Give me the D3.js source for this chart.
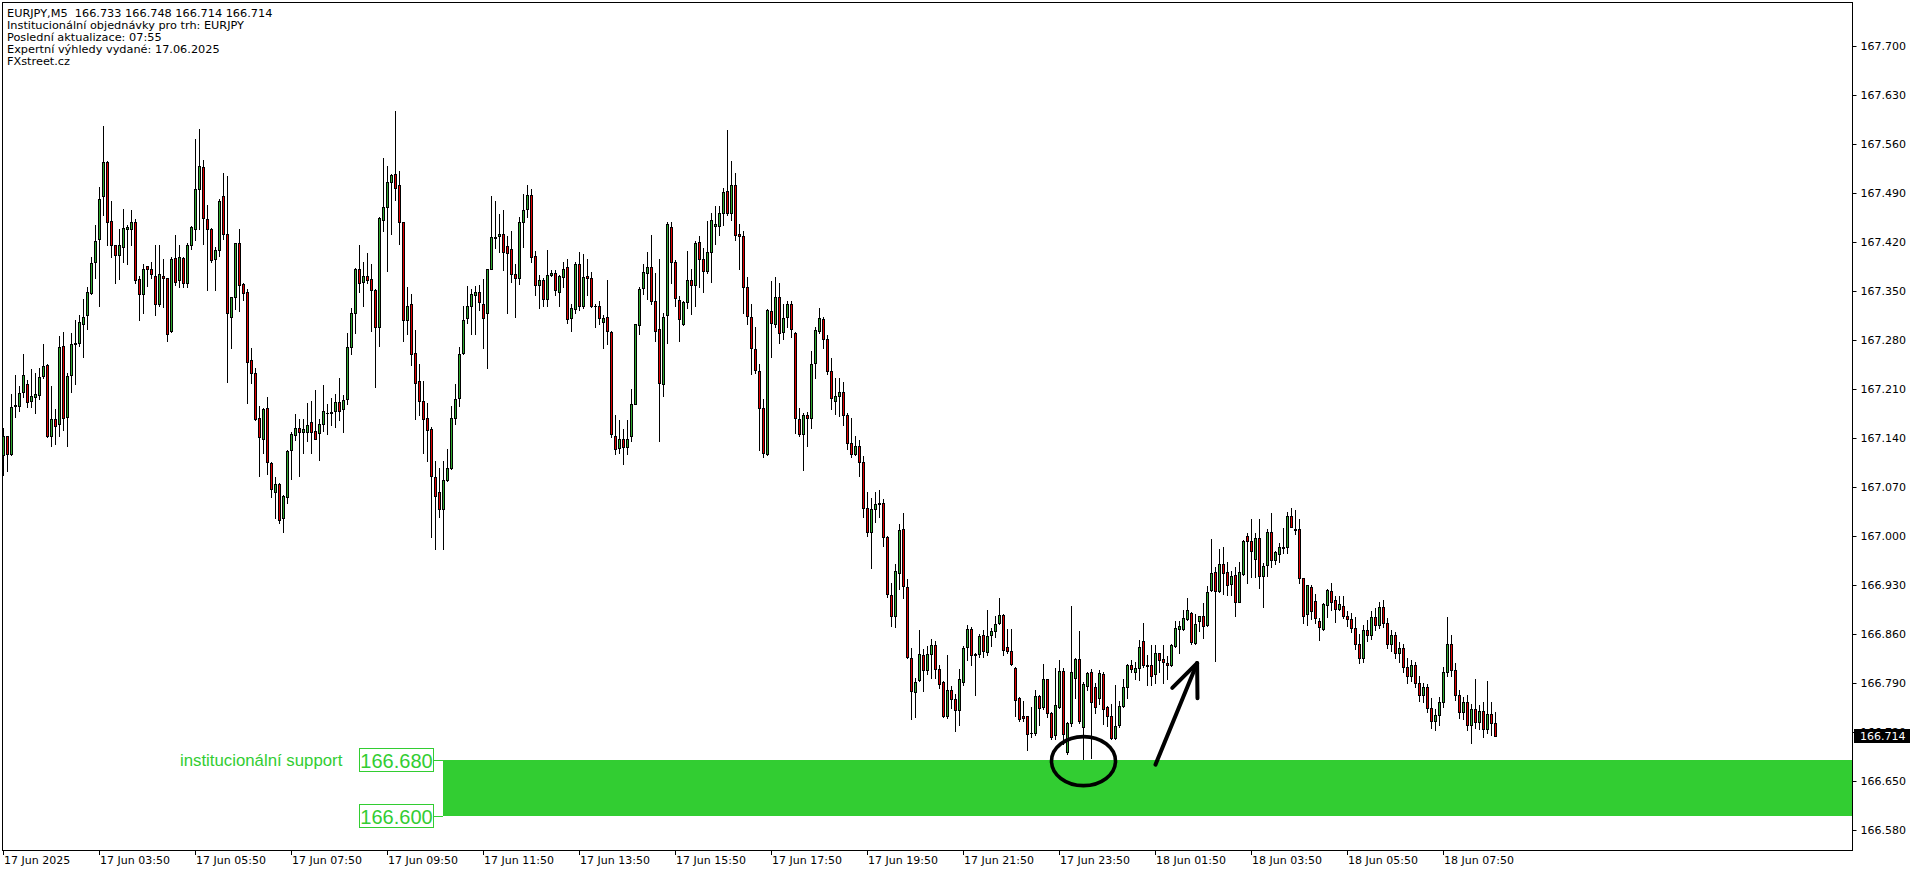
<!DOCTYPE html>
<html><head><meta charset="utf-8">
<script src="https://cdn.jsdelivr.net/npm/d3@7"></script>
<style>html,body{margin:0;padding:0;background:#fff;overflow:hidden;} svg{display:block;}</style>
</head><body>
<script>
// ---- DATA (EURJPY M5, bar 0 = 17 Jun 01:50) ----
const opens = [167.116,167.142,167.117,167.185,167.185,167.205,167.217,167.192,167.199,167.201,167.228,167.244,167.142,167.167,167.160,167.271,167.170,167.230,167.274,167.276,167.302,167.315,167.347,167.391,167.424,167.485,167.534,167.450,167.415,167.401,167.413,167.438,167.439,167.448,167.367,167.345,167.385,167.381,167.372,167.331,167.372,167.368,167.292,167.397,167.365,167.397,167.361,167.415,167.439,167.495,167.527,167.453,167.438,167.395,167.408,167.485,167.431,167.312,167.341,167.418,167.360,167.348,167.251,167.232,167.169,167.139,167.182,167.104,167.062,167.074,167.025,167.055,167.123,167.144,167.154,167.149,167.148,167.162,167.150,167.147,167.160,167.175,167.175,167.178,167.191,167.181,167.195,167.270,167.318,167.382,167.363,167.371,167.367,167.352,167.299,167.452,167.470,167.505,167.517,167.502,167.448,167.309,167.332,167.261,167.221,167.192,167.168,167.152,167.084,167.062,167.038,167.080,167.097,167.169,167.197,167.261,167.311,167.329,167.344,167.348,167.332,167.318,167.382,167.426,167.428,167.431,167.414,167.410,167.374,167.368,167.448,167.467,167.487,167.400,167.358,167.366,167.338,167.373,167.375,167.349,167.370,167.384,167.311,167.324,167.388,167.328,167.371,167.368,167.329,167.328,167.305,167.312,167.291,167.142,167.125,167.138,167.127,167.143,167.189,167.301,167.354,167.375,167.384,167.336,167.295,167.217,167.315,167.441,167.392,167.337,167.302,167.334,167.365,167.358,167.420,167.395,167.378,167.405,167.443,167.443,167.462,167.493,167.462,167.501,167.431,167.428,167.355,167.312,167.267,167.235,167.182,167.117,167.321,167.303,167.342,167.291,167.312,167.331,167.290,167.167,167.145,167.173,167.168,167.247,167.292,167.310,167.281,167.236,167.192,167.200,167.205,167.173,167.132,167.117,167.128,167.106,167.040,167.006,167.039,167.047,167.047,166.998,166.916,166.886,166.947,167.010,166.927,166.825,166.777,166.794,166.829,166.808,166.831,166.844,166.809,166.791,166.742,166.779,166.767,166.751,166.791,166.841,166.867,166.831,166.831,166.858,166.834,166.858,166.864,166.875,166.887,166.841,166.835,166.811,166.768,166.743,166.742,166.718,166.718,166.771,166.755,166.795,166.747,166.715,166.756,166.807,166.691,166.733,166.797,166.824,166.727,166.785,166.806,166.784,166.768,166.802,166.756,166.742,166.711,166.729,166.757,166.784,166.816,166.806,166.811,166.849,166.815,166.815,166.802,166.832,166.824,166.818,166.815,166.842,166.867,166.867,166.881,166.890,166.847,166.878,166.886,166.872,166.922,166.948,166.921,166.960,166.948,166.931,166.944,166.906,166.946,167.000,166.992,166.967,166.997,166.943,166.959,167.006,166.966,166.974,166.984,166.984,167.029,167.010,167.010,166.939,166.888,166.927,166.907,166.878,166.867,166.901,166.921,166.908,166.895,166.899,166.886,166.881,166.868,166.845,166.826,166.866,166.858,166.884,166.872,166.898,166.876,166.846,166.858,166.832,166.840,166.812,166.800,166.816,166.790,166.772,166.784,166.754,166.736,166.744,166.762,166.806,166.846,166.808,166.772,166.748,166.762,166.730,166.752,166.734,166.750,166.724,166.746,166.733];
const highs = [167.154,167.143,167.203,167.230,167.214,167.260,167.223,167.239,167.232,167.240,167.274,167.246,167.214,167.181,167.286,167.291,167.233,167.290,167.308,167.316,167.339,167.356,167.398,167.444,167.498,167.586,167.535,167.479,167.416,167.439,167.467,167.444,167.466,167.453,167.371,167.389,167.386,167.391,167.416,167.416,167.395,167.369,167.398,167.430,167.416,167.398,167.419,167.443,167.567,167.582,167.537,167.473,167.440,167.413,167.482,167.519,167.514,167.342,167.419,167.439,167.361,167.353,167.268,167.240,167.185,167.182,167.199,167.105,167.084,167.075,167.058,167.123,167.149,167.174,167.167,167.167,167.190,167.193,167.209,167.167,167.216,167.189,167.197,167.203,167.225,167.201,167.290,167.325,167.383,167.416,167.392,167.404,167.389,167.353,167.455,167.540,167.528,167.517,167.607,167.522,167.449,167.355,167.345,167.294,167.245,167.221,167.190,167.155,167.107,167.097,167.107,167.124,167.186,167.217,167.270,167.329,167.357,167.353,167.357,167.359,167.367,167.382,167.485,167.479,167.460,167.466,167.429,167.436,167.389,167.456,167.488,167.502,167.496,167.407,167.373,167.369,167.409,167.380,167.380,167.373,167.391,167.396,167.331,167.391,167.405,167.403,167.396,167.377,167.331,167.335,167.316,167.366,167.292,167.173,167.166,167.152,167.166,167.210,167.303,167.355,167.389,167.405,167.430,167.376,167.395,167.318,167.448,167.448,167.394,167.343,167.335,167.407,167.382,167.421,167.429,167.412,167.450,167.461,167.472,167.471,167.497,167.580,167.536,167.518,167.446,167.436,167.370,167.331,167.299,167.246,167.196,167.324,167.364,167.370,167.361,167.332,167.336,167.335,167.291,167.182,167.175,167.177,167.264,167.298,167.325,167.312,167.287,167.254,167.225,167.225,167.220,167.175,167.168,167.143,167.137,167.114,167.062,167.054,167.063,167.066,167.053,167.000,166.933,166.960,167.017,167.033,166.938,166.840,166.797,166.865,166.838,166.842,166.853,166.849,166.816,166.792,166.829,166.785,166.774,166.810,166.842,166.873,166.870,166.832,166.859,166.866,166.894,166.868,166.885,166.911,166.888,166.867,166.867,166.812,166.769,166.764,166.743,166.755,166.779,166.773,166.817,166.796,166.748,166.811,166.823,166.811,166.734,166.900,166.825,166.864,166.791,166.805,166.809,166.790,166.808,166.805,166.757,166.760,166.787,166.764,166.795,166.817,166.822,166.819,166.851,166.875,166.829,166.844,166.844,166.833,166.844,166.828,166.845,166.878,166.878,166.894,166.911,166.891,166.888,166.886,166.904,166.928,166.995,166.956,166.981,166.984,166.963,166.949,166.956,166.963,166.994,167.004,167.024,167.004,167.024,166.961,167.010,167.032,166.979,166.990,167.011,167.034,167.040,167.037,167.024,166.940,166.930,166.929,166.917,166.883,166.904,166.924,166.933,166.914,166.914,166.914,166.893,166.889,166.884,166.860,166.872,166.880,166.892,166.897,166.905,166.908,166.882,166.866,166.862,166.848,166.846,166.826,166.822,166.820,166.800,166.790,166.788,166.768,166.752,166.770,166.812,166.884,166.858,166.818,166.780,166.770,166.772,166.760,166.795,166.758,166.762,166.792,166.762,166.748];
const lows = [167.087,167.092,167.116,167.170,167.179,167.199,167.184,167.184,167.176,167.195,167.225,167.141,167.129,167.131,167.143,167.151,167.128,167.205,167.217,167.271,167.256,167.296,167.346,167.368,167.329,167.459,167.415,167.398,167.362,167.367,167.392,167.388,167.415,167.362,167.308,167.318,167.357,167.368,167.315,167.328,167.327,167.278,167.291,167.359,167.355,167.355,167.355,167.410,167.423,167.438,167.417,167.351,167.391,167.351,167.400,167.424,167.220,167.268,167.324,167.321,167.337,167.190,167.219,167.165,167.085,167.119,167.089,167.056,167.026,167.019,167.006,167.047,167.081,167.137,167.086,167.119,167.135,167.119,167.139,167.109,167.150,167.146,167.159,167.155,167.166,167.149,167.189,167.260,167.290,167.349,167.329,167.362,167.292,167.212,167.271,167.436,167.378,167.432,167.480,167.417,167.278,167.288,167.244,167.167,167.173,167.119,167.107,166.998,166.981,167.027,166.981,167.078,167.095,167.160,167.186,167.260,167.304,167.289,167.289,167.323,167.269,167.240,167.382,167.411,167.405,167.380,167.319,167.363,167.312,167.360,167.413,167.455,167.391,167.344,167.325,167.329,167.328,167.371,167.344,167.329,167.356,167.304,167.292,167.318,167.322,167.325,167.344,167.327,167.298,167.303,167.268,167.274,167.141,167.117,167.118,167.102,167.117,167.136,167.188,167.289,167.345,167.339,167.332,167.278,167.135,167.200,167.276,167.362,167.328,167.279,167.301,167.325,167.317,167.328,167.355,167.348,167.376,167.363,167.417,167.430,167.444,167.459,167.451,167.423,167.382,167.318,167.302,167.231,167.232,167.122,167.112,167.116,167.255,167.298,167.275,167.281,167.298,167.284,167.147,167.143,167.094,167.129,167.154,167.225,167.290,167.268,167.231,167.181,167.174,167.171,167.159,167.124,167.112,167.116,167.086,167.027,167.000,166.954,167.020,167.027,166.986,166.912,166.871,166.870,166.924,166.911,166.825,166.738,166.741,166.792,166.778,166.803,166.797,166.797,166.783,166.741,166.740,166.754,166.721,166.730,166.787,166.823,166.816,166.772,166.827,166.827,166.829,166.842,166.855,166.874,166.829,166.833,166.815,166.742,166.736,166.735,166.694,166.713,166.716,166.729,166.753,166.741,166.709,166.710,166.754,166.702,166.688,166.728,166.768,166.733,166.681,166.780,166.683,166.747,166.760,166.731,166.728,166.710,166.710,166.727,166.756,166.768,166.805,166.795,166.794,166.813,166.787,166.787,166.790,166.806,166.790,166.795,166.814,166.841,166.832,166.866,166.880,166.846,166.846,166.864,166.854,166.871,166.921,166.821,166.919,166.917,166.915,166.915,166.886,166.905,166.944,166.933,166.941,166.941,166.925,166.898,166.942,166.955,166.960,166.963,166.975,166.976,167.012,167.003,166.933,166.876,166.873,166.881,166.876,166.851,166.866,166.884,166.894,166.877,166.894,166.882,166.871,166.862,166.838,166.818,166.820,166.850,166.852,166.866,166.868,166.870,166.840,166.836,166.826,166.820,166.806,166.790,166.792,166.784,166.764,166.762,166.748,166.726,166.722,166.730,166.756,166.800,166.800,166.766,166.740,166.738,166.722,166.704,166.726,166.724,166.712,166.718,166.716,166.714];
const closes = [167.142,167.117,167.184,167.187,167.204,167.230,167.191,167.200,167.203,167.227,167.242,167.142,167.167,167.157,167.270,167.168,167.229,167.274,167.275,167.306,167.312,167.348,167.390,167.422,167.481,167.534,167.449,167.415,167.401,167.415,167.440,167.441,167.448,167.365,167.345,167.382,167.381,167.374,167.331,167.374,167.368,167.289,167.395,167.363,167.398,167.361,167.415,167.441,167.495,167.529,167.454,167.438,167.394,167.408,167.479,167.431,167.318,167.341,167.418,167.358,167.347,167.249,167.232,167.167,167.141,167.181,167.106,167.067,167.074,167.022,167.057,167.121,167.145,167.154,167.149,167.152,167.158,167.149,167.139,167.160,167.178,167.176,167.177,167.191,167.179,167.194,167.270,167.318,167.381,167.362,167.371,167.366,167.352,167.299,167.454,167.470,167.505,167.516,167.497,167.449,167.309,167.328,167.260,167.218,167.192,167.167,167.151,167.086,167.057,167.038,167.080,167.097,167.169,167.195,167.260,167.309,167.329,167.346,167.348,167.334,167.311,167.381,167.427,167.427,167.431,167.405,167.404,167.374,167.368,167.448,167.466,167.487,167.399,167.358,167.365,167.339,167.373,167.376,167.351,167.371,167.382,167.310,167.325,167.389,167.328,167.370,167.368,167.328,167.328,167.311,167.311,167.292,167.145,167.124,167.138,167.127,167.139,167.189,167.302,167.353,167.377,167.384,167.336,167.292,167.219,167.312,167.446,167.392,167.340,167.310,167.334,167.365,167.358,167.418,167.395,167.378,167.405,167.451,167.445,167.462,167.492,167.462,167.501,167.430,167.429,167.355,167.314,167.268,167.237,167.182,167.118,167.323,167.304,167.341,167.290,167.311,167.331,167.295,167.168,167.145,167.173,167.168,167.245,167.294,167.311,167.281,167.236,167.197,167.200,167.205,167.172,167.132,167.117,167.128,167.105,167.040,167.006,167.039,167.045,167.045,166.998,166.917,166.886,166.949,167.009,166.928,166.827,166.778,166.791,166.831,166.808,166.831,166.844,166.810,166.788,166.742,166.779,166.767,166.751,166.795,166.840,166.867,166.829,166.829,166.857,166.835,166.857,166.864,166.874,166.887,166.837,166.836,166.817,166.765,166.738,166.739,166.717,166.718,166.771,166.754,166.795,166.747,166.713,166.758,166.807,166.717,166.733,166.806,166.824,166.736,166.788,166.804,166.763,166.756,166.804,166.752,166.742,166.711,166.728,166.757,166.784,166.816,166.809,166.811,166.841,166.815,166.814,166.799,166.832,166.822,166.820,166.815,166.844,166.868,166.871,166.883,166.894,166.848,166.874,166.885,166.871,166.919,166.947,166.921,166.960,166.947,166.929,166.943,166.906,166.948,166.993,166.992,166.979,166.997,166.943,166.957,167.006,166.965,166.977,166.984,166.982,167.029,167.013,167.009,166.940,166.886,166.929,166.893,166.883,166.870,166.902,166.923,166.906,166.895,166.902,166.886,166.881,166.868,166.845,166.825,166.866,166.858,166.884,166.872,166.898,166.876,166.846,166.858,166.832,166.840,166.812,166.800,166.816,166.790,166.772,166.784,166.754,166.736,166.744,166.762,166.806,166.846,166.808,166.772,166.748,166.762,166.730,166.752,166.734,166.750,166.724,166.746,166.733,166.714];

const xTickBars = [0,24,48,72,96,120,144,168,192,216,240,264,288,312,336,360];
const xTickLabels = ["17 Jun 2025","17 Jun 03:50","17 Jun 05:50","17 Jun 07:50","17 Jun 09:50","17 Jun 11:50","17 Jun 13:50","17 Jun 15:50","17 Jun 17:50","17 Jun 19:50","17 Jun 21:50","17 Jun 23:50","18 Jun 01:50","18 Jun 03:50","18 Jun 05:50","18 Jun 07:50"];
const yTickValues = [166.58,166.65,166.72,166.79,166.86,166.93,167.00,167.07,167.14,167.21,167.28,167.35,167.42,167.49,167.56,167.63,167.70];
const headerLines = ["EURJPY,M5  166.733 166.748 166.714 166.714","Institucionální objednávky pro trh: EURJPY","Poslední aktualizace: 07:55","Expertní výhledy vydané: 17.06.2025","FXstreet.cz"];
const zoneLevels = [166.680, 166.600];
const zoneStartBar = 110;
const zoneLabel = "institucionální support";
const lastPrice = 166.714;
const circleMark = {bar: 270, price: 166.678};
const arrowMark = {fromBar: 288, fromPrice: 166.673, toBar: 298.4, toPrice: 166.818};

// ---- DRAWING ----
const W = 1916, H = 874;
const plot = {left: 2, top: 2, right: 1852, bottom: 850};
const svg = d3.select("body").append("svg").attr("width", W).attr("height", H)
  .style("background", "#fff");

const x = d3.scaleLinear().domain([0, 1]).range([3.5, 7.5]);
const y = d3.scaleLinear().domain([166.58, 167.70]).range([829.7, 46]);
const yr = v => Math.round(y(v));

const GREEN = "#32CD32";
const BULL = "#2fa82f", BEAR = "#e00000";

svg.append("defs").append("clipPath").attr("id", "clip")
  .append("rect").attr("x", plot.left).attr("y", plot.top)
  .attr("width", plot.right - plot.left).attr("height", plot.bottom - plot.top);

const pg = svg.append("g").attr("clip-path", "url(#clip)");

// support zone
const zx = Math.round(x(zoneStartBar) - 0.5);
pg.append("rect").attr("x", zx).attr("y", yr(zoneLevels[0]))
  .attr("width", plot.right - zx).attr("height", yr(zoneLevels[1]) - yr(zoneLevels[0]))
  .attr("fill", GREEN);

// candles
const idx = d3.range(opens.length);
const cg = pg.append("g");
cg.selectAll("line.wick").data(idx).join("line")
  .attr("x1", i => x(i)).attr("x2", i => x(i))
  .attr("y1", i => yr(highs[i])).attr("y2", i => yr(lows[i]) + 1)
  .attr("stroke", "#000").attr("stroke-width", 1);
cg.selectAll("rect.body").data(idx).join("rect")
  .attr("x", i => x(i) - 1.5)
  .attr("y", i => yr(Math.max(opens[i], closes[i])))
  .attr("width", 3)
  .attr("height", i => yr(Math.min(opens[i], closes[i])) - yr(Math.max(opens[i], closes[i])) + 1)
  .attr("fill", "#000");
cg.selectAll("rect.fill").data(idx.filter(i => yr(Math.min(opens[i], closes[i])) - yr(Math.max(opens[i], closes[i])) > 1)).join("rect")
  .attr("x", i => x(i) - 0.5)
  .attr("y", i => yr(Math.max(opens[i], closes[i])) + 1)
  .attr("width", 1)
  .attr("height", i => yr(Math.min(opens[i], closes[i])) - yr(Math.max(opens[i], closes[i])) - 1)
  .attr("fill", i => closes[i] >= opens[i] ? BULL : BEAR);

// annotations
pg.append("ellipse").attr("cx", x(circleMark.bar)).attr("cy", y(circleMark.price))
  .attr("rx", 32).attr("ry", 24.5).attr("fill", "none").attr("stroke", "#000").attr("stroke-width", 3.6);
const ax1 = x(arrowMark.fromBar), ay1 = y(arrowMark.fromPrice), ax2 = x(arrowMark.toBar), ay2 = y(arrowMark.toPrice);
const ang = Math.atan2(ay1 - ay2, ax1 - ax2);
const hl = 35, ha = 0.4;
const ag = pg.append("g").attr("stroke", "#000").attr("stroke-width", 4).attr("stroke-linecap", "round").attr("fill", "none");
ag.append("line").attr("x1", ax1).attr("y1", ay1).attr("x2", ax2).attr("y2", ay2);
ag.append("line").attr("x1", ax2).attr("y1", ay2).attr("x2", ax2 + hl * Math.cos(ang + ha)).attr("y2", ay2 + hl * Math.sin(ang + ha));
ag.append("line").attr("x1", ax2).attr("y1", ay2).attr("x2", ax2 + hl * Math.cos(ang - ha)).attr("y2", ay2 + hl * Math.sin(ang - ha));

// frame
svg.append("rect").attr("x", plot.left + 0.5).attr("y", plot.top + 0.5)
  .attr("width", plot.right - plot.left).attr("height", plot.bottom - plot.top)
  .attr("fill", "none").attr("stroke", "#000").attr("stroke-width", 1);

// y axis (right)
const yAxis = d3.axisRight(y).tickValues(yTickValues).tickFormat(d3.format(".3f")).tickSize(4).tickPadding(4);
const yg = svg.append("g").attr("transform", `translate(${plot.right + 0.5},0)`).call(yAxis);
yg.select(".domain").remove();
yg.selectAll(".tick").attr("transform", d => `translate(0,${yr(d) + 0.5})`);
yg.selectAll("text").attr("font-family", "'DejaVu Sans', Tahoma, sans-serif").attr("font-size", "11px").attr("fill", "#000");

// last price tag
svg.append("rect").attr("x", 1854).attr("y", yr(lastPrice) - 7).attr("width", 56).attr("height", 14).attr("fill", "#000");
svg.append("text").attr("x", 1860).attr("y", yr(lastPrice)).attr("dy", "0.35em")
  .attr("font-family", "'DejaVu Sans', Tahoma, sans-serif").attr("font-size", "11px").attr("fill", "#fff")
  .text(d3.format(".3f")(lastPrice));

// x axis (bottom)
const xg = svg.append("g");
xg.selectAll("line").data(xTickBars).join("line")
  .attr("x1", d => Math.floor(x(d)) + 0.5).attr("x2", d => Math.floor(x(d)) + 0.5)
  .attr("y1", plot.bottom + 1).attr("y2", plot.bottom + 5).attr("stroke", "#000");
xg.selectAll("text").data(xTickBars).join("text")
  .attr("x", d => Math.floor(x(d)) + 1).attr("y", 864)
  .attr("font-family", "'DejaVu Sans', Tahoma, sans-serif").attr("font-size", "11px").attr("fill", "#000")
  .text((d, i) => xTickLabels[i]);

// header
svg.append("g").selectAll("text").data(headerLines).join("text")
  .attr("x", 7).attr("y", (d, i) => 16.7 + i * 12.1)
  .attr("font-family", "'DejaVu Sans', Tahoma, sans-serif").attr("font-size", "11.3px").attr("fill", "#000")
  .attr("xml:space", "preserve").style("white-space", "pre")
  .text(d => d);

// zone labels
const lg = svg.append("g");
zoneLevels.forEach(v => {
  const cy = yr(v);
  lg.append("line").attr("x1", 433).attr("x2", zx).attr("y1", cy + 0.5).attr("y2", cy + 0.5).attr("stroke", GREEN);
  lg.append("rect").attr("x", 359.5).attr("y", cy - 11.5).attr("width", 74).attr("height", 23)
    .attr("fill", "#fff").attr("stroke", GREEN).attr("stroke-width", 1);
  lg.append("text").attr("x", 396.5).attr("y", cy + 1).attr("dy", "0.35em").attr("text-anchor", "middle")
    .attr("font-family", "'Liberation Sans', Arial, sans-serif").attr("font-size", "20px").attr("fill", GREEN)
    .text(d3.format(".3f")(v));
});
lg.append("text").attr("x", 180).attr("y", yr(zoneLevels[0])).attr("dy", "0.35em")
  .attr("font-family", "'Liberation Sans', Arial, sans-serif").attr("font-size", "16.8px").attr("fill", GREEN)
  .text(zoneLabel);
</script>
</body></html>
